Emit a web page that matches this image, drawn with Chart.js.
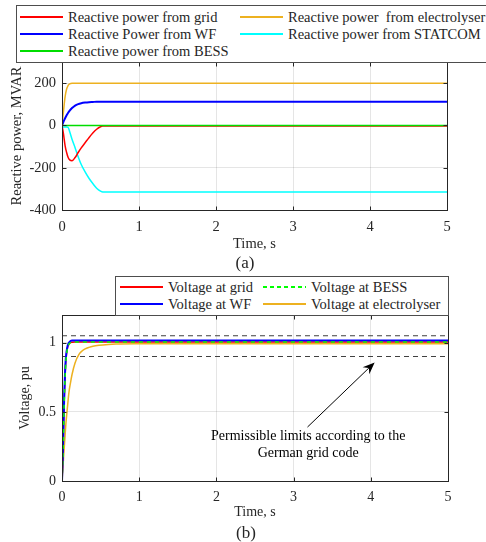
<!DOCTYPE html>
<html>
<head>
<meta charset="utf-8">
<script src="https://cdn.jsdelivr.net/npm/chart.js@4.4.0/dist/chart.umd.min.js"></script>
<style>
html, body { margin: 0; padding: 0; background: #fff; }
#wrap { position: relative; width: 486px; height: 542px; overflow: hidden;
  font-family: "Liberation Serif", "Times New Roman", serif; color: #262626; }
canvas { position: absolute; left: 0; }
.legend { position: absolute; background: #fff; border: 1px solid #4d4d4d; box-sizing: border-box; }
.item { position: absolute; line-height: 18px; white-space: pre; }
.sw { position: absolute; width: 43px; height: 2px; }
.cap { position: absolute; font-size: 17px; transform: translate(-50%, -50%); }
</style>
</head>
<body>
<div id="wrap">
  <canvas id="c1" width="486" height="270" style="top:0"></canvas>
  <canvas id="c2" width="486" height="272" style="top:270px"></canvas>
  <div id="leg1" class="legend" style="left:16px;top:5px;width:490px;height:58px"></div>
  <div id="leg2" class="legend" style="left:115px;top:276px;width:334px;height:40px"></div>
  <div class="cap" style="left:245px;top:263px">(a)</div>
  <div class="cap" style="left:246px;top:533px">(b)</div>
</div>
<script>
// (a) reactive power, MVAR
const tQ = [0, 0.01, 0.02, 0.04, 0.06, 0.08, 0.1, 0.13, 0.17, 0.21, 0.25, 0.3, 0.35, 0.4, 0.45, 0.5, 0.53, 0.6, 1, 2, 3, 4, 5];
const qGrid    = [0, -20, -42, -95, -128, -152, -163, -167, -152, -128, -106, -82, -58, -36, -18, -6, -3, -3, -3, -3, -3, -3, -3];
const qElec    = [0, 35, 70, 135, 172, 190, 197, 200, 200, 200, 200, 200, 200, 200, 200, 200, 200, 200, 200, 200, 200, 200, 200];
const qWF      = [0, 9, 18, 34, 48, 60, 70, 82, 94, 101, 105, 108, 110, 111, 112, 112, 112, 112, 112, 112, 112, 112, 112];
const qStatcom = [0, -8, -8, -8, -8, -10, -30, -65, -105, -148, -185, -220, -250, -275, -297, -311, -315, -315, -315, -315, -315, -315, -315];
const qBess    = [0, 0, 0, 0, 0, 0, 0, 0, 0, 0, 0, 0, 0, 0, 0, 0, 0, 0, 0, 0, 0, 0, 0];
const qNames = ['Reactive power from grid', 'Reactive power  from electrolyser', 'Reactive Power from WF',
                'Reactive power from STATCOM', 'Reactive power from BESS'];
const qColors = ['#ff0000', '#edb120', '#0000ff', '#00ffff', '#00dd00'];

// (b) voltage, pu
const tV = [0, 0.01, 0.02, 0.03, 0.04, 0.05, 0.07, 0.09, 0.11, 0.13, 0.17, 0.22, 0.26, 0.3, 0.35, 0.4, 0.48, 0.6, 0.7, 1, 2, 3, 4, 5];
const vGrid = [0, 0.15, 0.38, 0.6, 0.76, 0.87, 0.96, 0.99, 1.0, 1.003, 1.005, 1.005, 1.005, 1.005, 1.005, 1.005, 1.005, 1.005, 1.005, 1.005, 1.005, 1.005, 1.005, 1.005];
const vWF   = [0, 0.17, 0.42, 0.64, 0.79, 0.89, 0.97, 1.0, 1.012, 1.015, 1.015, 1.015, 1.015, 1.015, 1.015, 1.015, 1.015, 1.015, 1.015, 1.015, 1.015, 1.015, 1.015, 1.015];
const vBess = [0, 0.14, 0.37, 0.59, 0.75, 0.86, 0.955, 0.99, 1.0, 1.004, 1.005, 1.005, 1.005, 1.005, 1.005, 1.005, 1.005, 1.005, 1.005, 1.005, 1.005, 1.005, 1.005, 1.005];
const vElec = [0, 0.08, 0.17, 0.25, 0.33, 0.41, 0.53, 0.64, 0.71, 0.77, 0.855, 0.915, 0.94, 0.955, 0.966, 0.974, 0.981, 0.987, 0.99, 0.992, 0.993, 0.993, 0.993, 0.993];
const tLim = [0, 5];
const vUpper = [1.05, 1.05];
const vLower = [0.9, 0.9];
const vNames = ['Voltage at grid', 'Voltage at BESS', 'Voltage at WF', 'Voltage at electrolyser'];
const vColors = ['#ff0000', '#00ff00', '#0000ff', '#edb120'];

const xTicks = [0, 1, 2, 3, 4, 5];
const noteLines = ['Permissible limits according to the', 'German grid code'];

const FONT = '"Liberation Serif", "Times New Roman", serif';
const pts = (t, v) => t.map((x, i) => ({ x: x, y: v[i] }));

function line(label, t, v, color, extra) {
  return Object.assign({
    label: label, data: pts(t, v), borderColor: color, backgroundColor: color,
    borderWidth: 1.5, pointRadius: 0, fill: false, cubicInterpolationMode: 'monotone'
  }, extra || {});
}

const frame = {
  id: 'frame',
  afterDatasetsDraw(chart) {
    const { ctx, chartArea: a, scales: { x, y } } = chart;
    ctx.save();
    ctx.strokeStyle = '#262626';
    ctx.lineWidth = 1;
    const seg = (x1, y1, x2, y2) => { ctx.beginPath(); ctx.moveTo(x1, y1); ctx.lineTo(x2, y2); ctx.stroke(); };
    const L = Math.round(a.left) + 0.5, R = Math.round(a.right) + 0.5;
    const T = Math.round(a.top) + 0.5, B = Math.round(a.bottom) + 0.5;
    ctx.strokeRect(L, T, R - L, B - T);
    x.ticks.forEach(tk => {
      const px = Math.round(x.getPixelForValue(tk.value)) + 0.5;
      seg(px, B, px, B - 4); seg(px, T, px, T + 4);
    });
    y.ticks.forEach(tk => {
      const py = Math.round(y.getPixelForValue(tk.value)) + 0.5;
      seg(L, py, L + 4, py); seg(R, py, R - 4, py);
    });
    ctx.restore();
  }
};

const note = {
  id: 'note',
  afterDraw(chart) {
    const { ctx, scales: { x, y } } = chart;
    ctx.save();
    ctx.fillStyle = '#000';
    ctx.font = '14px ' + FONT;
    ctx.textAlign = 'center';
    ctx.textBaseline = 'middle';
    const cx = x.getPixelForValue(3.19);
    ctx.fillText(noteLines[0], cx, y.getPixelForValue(0.32));
    ctx.fillText(noteLines[1], cx, y.getPixelForValue(0.2));
    const x0 = x.getPixelForValue(3.18), y0 = y.getPixelForValue(0.39);
    const x1 = x.getPixelForValue(4.05), y1 = y.getPixelForValue(0.857);
    const ang = Math.atan2(y1 - y0, x1 - x0);
    ctx.strokeStyle = '#000';
    ctx.lineWidth = 1;
    ctx.beginPath(); ctx.moveTo(x0, y0);
    ctx.lineTo(x1 - 8 * Math.cos(ang), y1 - 8 * Math.sin(ang)); ctx.stroke();
    ctx.beginPath();
    ctx.moveTo(x1, y1);
    ctx.lineTo(x1 - 13 * Math.cos(ang - 0.38), y1 - 13 * Math.sin(ang - 0.38));
    ctx.lineTo(x1 - 8 * Math.cos(ang), y1 - 8 * Math.sin(ang));
    ctx.lineTo(x1 - 13 * Math.cos(ang + 0.38), y1 - 13 * Math.sin(ang + 0.38));
    ctx.closePath(); ctx.fill();
    ctx.restore();
  }
};

function makeChart(id, datasets, yMin, yMax, yStep, yTitle, pad, xh, fs, titlePad, plugins) {
  return new Chart(document.getElementById(id), {
    type: 'line',
    data: { datasets: datasets },
    plugins: plugins,
    options: {
      responsive: false, animation: false, devicePixelRatio: 1,
      layout: { padding: pad },
      plugins: { legend: { display: false }, tooltip: { enabled: false } },
      scales: {
        x: {
          type: 'linear', min: 0, max: 5,
          afterBuildTicks: s => { s.ticks = xTicks.map(v => ({ value: v })); },
          afterFit: s => { s.height = xh; },
          ticks: { color: '#262626', padding: 8, maxRotation: 0, font: { family: FONT, size: fs } },
          grid: { color: 'rgba(0,0,0,0.1)', drawTicks: false },
          border: { display: false },
          title: { display: true, text: 'Time, s', color: '#262626', padding: { top: 0, bottom: 0 }, font: { family: FONT, size: fs } }
        },
        y: {
          type: 'linear', min: yMin, max: yMax,
          afterFit: s => { s.width = 62; },
          ticks: { stepSize: yStep, includeBounds: false, color: '#262626', padding: 6,
                   callback: v => String(v), font: { family: FONT, size: fs } },
          grid: { color: 'rgba(0,0,0,0.1)', drawTicks: false },
          border: { display: false },
          title: { display: true, text: yTitle, color: '#262626', padding: { top: titlePad, bottom: 0 }, font: { family: FONT, size: fs } }
        }
      }
    }
  });
}

makeChart('c1', [
  line(qNames[4], tQ, qBess, qColors[4], { order: 1 }),
  line(qNames[0], tQ, qGrid, qColors[0], { order: 2 }),
  line(qNames[3], tQ, qStatcom, qColors[3], { order: 3 }),
  line(qNames[2], tQ, qWF, qColors[2], { order: 4, borderWidth: 2 }),
  line(qNames[1], tQ, qElec, qColors[1], { order: 5 })
], -400, 300, 200, 'Reactive power, MVAR', { top: 62, right: 39, left: 0, bottom: 17 }, 43, 14.5, 8, [frame]);

makeChart('c2', [
  line('upper limit', tLim, vUpper, '#404040', { order: 6, borderWidth: 1.2, borderDash: [5, 4], cubicInterpolationMode: 'default' }),
  line('lower limit', tLim, vLower, '#404040', { order: 7, borderWidth: 1.2, borderDash: [5, 4], cubicInterpolationMode: 'default' }),
  line(vNames[1], tV, vBess, vColors[1], { order: 1, borderDash: [4, 4] }),
  line(vNames[0], tV, vGrid, vColors[0], { order: 3 }),
  line(vNames[2], tV, vWF, vColors[2], { order: 2, borderWidth: 2 }),
  line(vNames[3], tV, vElec, vColors[3], { order: 4 })
], 0, 1.2, 0.5, 'Voltage, pu', { top: 45, right: 38, left: 0, bottom: 21 }, 40, 14, 17, [frame, note]);

// legends, laid out like the figure (row-wise, two columns)
function legend(id, names, colors, dashes, cols, rows, txtOff, fs) {
  const box = document.getElementById(id);
  names.forEach((n, i) => {
    const c = i % 2, r = Math.floor(i / 2);
    const sw = document.createElement('div');
    sw.className = 'sw';
    sw.style.left = cols[c] + 'px';
    sw.style.top = (rows[r] - 1) + 'px';
    sw.style.background = dashes[i]
      ? 'repeating-linear-gradient(90deg,' + colors[i] + ' 0 4px, transparent 4px 7px)'
      : colors[i];
    box.appendChild(sw);
    const tx = document.createElement('div');
    tx.className = 'item';
    tx.textContent = n;
    tx.style.fontSize = fs + 'px';
    tx.style.left = (cols[c] + txtOff) + 'px';
    tx.style.top = (rows[r] - 9) + 'px';
    box.appendChild(tx);
  });
}
legend('leg1', qNames, qColors, [false, false, false, false, false], [3, 223], [11, 28, 45], 48, 14.5);
legend('leg2', vNames, vColors, [false, true, false, false], [4, 147], [10, 27], 48, 14.5);
</script>
</body>
</html>
